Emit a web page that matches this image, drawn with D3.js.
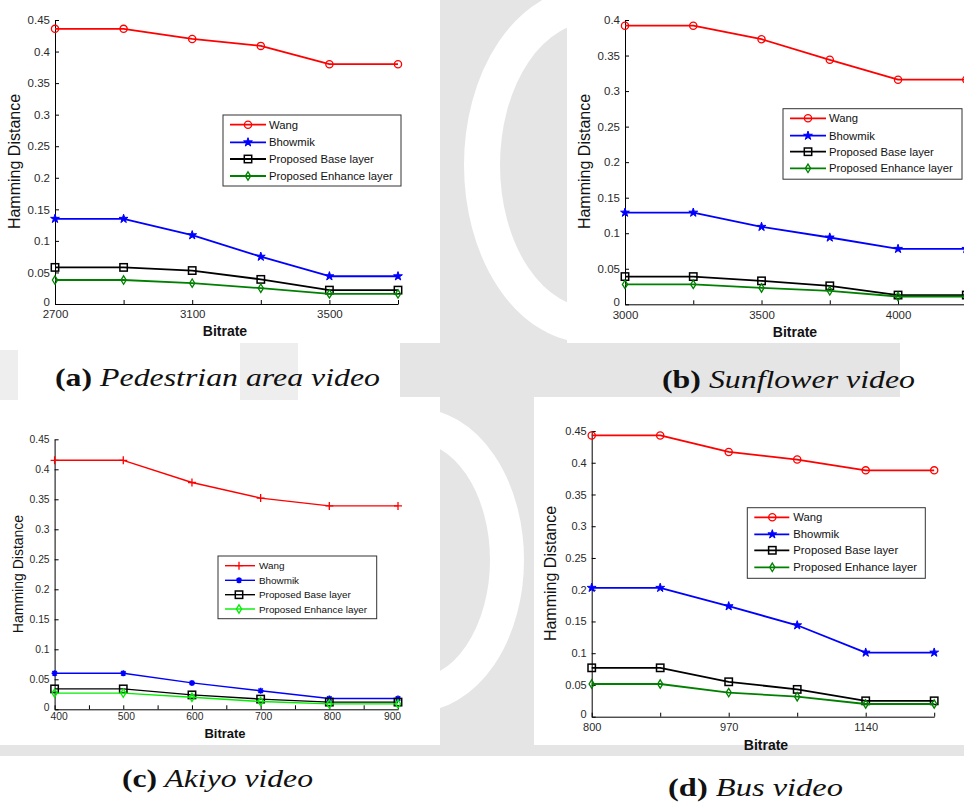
<!DOCTYPE html>
<html>
<head>
<meta charset="utf-8">
<style>
    body { margin: 0; background: #fff; }
    svg { display: block; }
    .tick text { font-family: Arial, "Liberation Sans", sans-serif; fill: #2a2a2a; }
    .domain, .tick line { stroke: #000; }
</style>
</head>
<body>
<svg width="964" height="810"></svg>
<script src="https://d3js.org/d3.v7.min.js"></script>
<script>

// legend names, same in every panel
const seriesNames = ["Wang", "Bhowmik", "Proposed Base layer", "Proposed Enhance layer"];

// (a) Pedestrian area video
const bitrateA = [2700, 2900, 3100, 3300, 3500, 3700];
const wangA = [0.436, 0.436, 0.420, 0.409, 0.380, 0.380];
const bhowmikA = [0.135, 0.135, 0.109, 0.075, 0.044, 0.044];
const baseA = [0.058, 0.058, 0.053, 0.039, 0.022, 0.022];
const enhanceA = [0.038, 0.038, 0.033, 0.025, 0.016, 0.016];
const xLabelsA = [2700, 3100, 3500];

// (b) Sunflower video
const bitrateB = [3000, 3250, 3500, 3750, 4000, 4250];
const wangB = [0.392, 0.392, 0.373, 0.344, 0.316, 0.316];
const bhowmikB = [0.129, 0.129, 0.109, 0.094, 0.078, 0.078];
const baseB = [0.039, 0.039, 0.033, 0.026, 0.013, 0.013];
const enhanceB = [0.028, 0.028, 0.023, 0.019, 0.011, 0.011];
const xLabelsB = [3000, 3500, 4000];

// (c) Akiyo video
const bitrateC = [400, 500, 600, 700, 800, 900];
const wangC = [0.415, 0.415, 0.378, 0.352, 0.339, 0.339];
const bhowmikC = [0.060, 0.060, 0.044, 0.031, 0.018, 0.018];
const baseC = [0.034, 0.034, 0.024, 0.017, 0.012, 0.012];
const enhanceC = [0.027, 0.027, 0.020, 0.013, 0.009, 0.009];
const xTicksC = [400, 450, 500, 550, 600, 650, 700, 750, 800, 850, 900];
const xLabelsC = [400, 500, 600, 700, 800, 900];

// (d) Bus video
const bitrateD = [800, 885, 970, 1055, 1140, 1225];
const wangD = [0.443, 0.443, 0.417, 0.405, 0.388, 0.388];
const bhowmikD = [0.203, 0.203, 0.174, 0.144, 0.101, 0.101];
const baseD = [0.077, 0.077, 0.055, 0.043, 0.025, 0.025];
const enhanceD = [0.0515, 0.0515, 0.038, 0.0315, 0.020, 0.020];
const xLabelsD = [800, 970, 1140];

const yTicks45 = [0, 0.05, 0.1, 0.15, 0.2, 0.25, 0.3, 0.35, 0.4, 0.45];
const yTicks40 = [0, 0.05, 0.1, 0.15, 0.2, 0.25, 0.3, 0.35, 0.4];

const captionTags = ["(a)", "(b)", "(c)", "(d)"];
const captionNames = ["Pedestrian area video", "Sunflower video", "Akiyo video", "Bus video"];

let svg = d3.select("svg");
let grey = "#e5e5e5";

// ---- faint watermark behind the panels ----
svg.append("rect").attr("x", 440).attr("y", 0).attr("width", 127).attr("height", 345).attr("fill", grey);
svg.append("rect").attr("x", 400).attr("y", 343).attr("width", 500).attr("height", 54).attr("fill", grey);
svg.append("rect").attr("x", 240).attr("y", 343).attr("width", 58).attr("height", 75).attr("fill", "#eeeeee");
svg.append("rect").attr("x", 0).attr("y", 350).attr("width", 18).attr("height", 60).attr("fill", "#eeeeee");
svg.append("rect").attr("x", 440).attr("y", 397).attr("width", 94).attr("height", 350).attr("fill", grey);
svg.append("rect").attr("x", 520).attr("y", 397).attr("width", 14).attr("height", 296).attr("fill", grey);
svg.append("rect").attr("x", 0).attr("y", 745).attr("width", 964).attr("height", 11).attr("fill", grey);

svg.append("clipPath").attr("id", "wm1").append("rect").attr("x", 440).attr("y", 0).attr("width", 127).attr("height", 345);
svg.append("ellipse").attr("clip-path", "url(#wm1)")
    .attr("cx", 590).attr("cy", 165).attr("rx", 108).attr("ry", 160)
    .attr("fill", "none").attr("stroke", "#fff").attr("stroke-width", 36);
svg.append("clipPath").attr("id", "wm2").append("rect").attr("x", 440).attr("y", 397).attr("width", 94).attr("height", 348);
svg.append("ellipse").attr("clip-path", "url(#wm2)")
    .attr("cx", 415).attr("cy", 560).attr("rx", 92).attr("ry", 135)
    .attr("fill", "none").attr("stroke", "#fff").attr("stroke-width", 34);

// white figure backgrounds
svg.append("rect").attr("x", 0).attr("y", 0).attr("width", 440).attr("height", 343).attr("fill", "#fff");
svg.append("rect").attr("x", 567).attr("y", 0).attr("width", 397).attr("height", 343).attr("fill", "#fff");
svg.append("rect").attr("x", 0).attr("y", 400).attr("width", 440).attr("height", 345).attr("fill", "#fff");
svg.append("rect").attr("x", 534).attr("y", 404).attr("width", 430).attr("height", 341).attr("fill", "#fff");

// ---- panel layout ----
let panels = [
    {
        xs: bitrateA, series: [wangA, bhowmikA, baseA, enhanceA],
        xTicks: bitrateA, xLabels: xLabelsA, yTicks: yTicks45, yMax: 0.45,
        left: 55, right: 398, top: 20, bottom: 304,
        colors: ["#ff0000", "#0000ff", "#000000", "#008000"],
        markers: ["circle", "star", "square", "diamond"], lw: 1.8, fs: 11.5, lblOff: 6.3,
        ylab: [20, 161.5, 16], xlab: [225, 336, 14],
        legend: { x: 223, y: 115, w: 178, h: 71, rows: [124.7, 142.3, 159, 176], l1: 7, l2: 43, m: 25, t: 46, fs: 11.3 }
    },
    {
        xs: bitrateB, series: [wangB, bhowmikB, baseB, enhanceB],
        xTicks: bitrateB, xLabels: xLabelsB, yTicks: yTicks40, yMax: 0.4,
        left: 625, right: 966.3, top: 20, bottom: 304.3,
        colors: ["#ff0000", "#0000ff", "#000000", "#008000"],
        markers: ["circle", "star", "square", "diamond"], lw: 1.8, fs: 11.5, lblOff: 6.3,
        ylab: [590, 161.5, 16], xlab: [795, 337, 14],
        legend: { x: 783, y: 108.7, w: 179, h: 70.5, rows: [118.3, 135.7, 151.7, 168.3], l1: 7, l2: 43, m: 25, t: 46, fs: 11.3 }
    },
    {
        xs: bitrateC, series: [wangC, bhowmikC, baseC, enhanceC],
        xTicks: xTicksC, xLabels: xLabelsC, yTicks: yTicks45, yMax: 0.45,
        left: 54.6, right: 398, top: 439.3, bottom: 709.3,
        colors: ["#ff0000", "#0000ff", "#000000", "#00ee00"],
        markers: ["plus", "asterisk", "square", "diamond"], lw: 1.4, fs: 10.3, lblOff: 3.5,
        ylab: [23, 574, 14], xlab: [225, 738, 13],
        legend: { x: 218, y: 556, w: 158.7, h: 62.7, rows: [565.7, 580.3, 594.7, 609], l1: 7, l2: 37, m: 21, t: 41, fs: 9.9 }
    },
    {
        xs: bitrateD, series: [wangD, bhowmikD, baseD, enhanceD],
        xTicks: bitrateD, xLabels: xLabelsD, yTicks: yTicks45, yMax: 0.45,
        left: 591.7, right: 934.2, top: 431, bottom: 716.7,
        colors: ["#ff0000", "#0000ff", "#000000", "#008000"],
        markers: ["circle", "star", "square", "diamond"], lw: 1.8, fs: 11, lblOff: 6.3,
        ylab: [556, 573.5, 16], xlab: [766, 750, 14],
        legend: { x: 747.3, y: 507.7, w: 178, h: 70.6, rows: [517.3, 534.3, 550.3, 567.3], l1: 7, l2: 42, m: 25, t: 46, fs: 11.3 }
    }
];

let captionPos = [[55, 386, 325], [662, 388, 253], [122, 787, 191], [668, 796, 175]];

function drawMarker(g, type, cx, cy, color) {
    if (type == "circle") {
        g.append("circle").attr("cx", cx).attr("cy", cy).attr("r", 3.6)
            .attr("fill", "none").attr("stroke", color).attr("stroke-width", 1.3);
    } else if (type == "square") {
        g.append("rect").attr("x", cx - 3.7).attr("y", cy - 3.7).attr("width", 7.4).attr("height", 7.4)
            .attr("fill", "none").attr("stroke", color).attr("stroke-width", 1.5);
    } else if (type == "diamond") {
        g.append("path").attr("d", `M${cx},${cy - 4.2}L${cx + 2.6},${cy}L${cx},${cy + 4.2}L${cx - 2.6},${cy}Z`)
            .attr("fill", "none").attr("stroke", color).attr("stroke-width", 1.3);
    } else if (type == "star") {
        g.append("path").attr("d", d3.symbol(d3.symbolStar, 24)())
            .attr("transform", `translate(${cx},${cy})`)
            .attr("fill", color).attr("stroke", color).attr("stroke-width", 1);
    } else if (type == "plus") {
        g.append("path").attr("d", `M${cx - 4},${cy}H${cx + 4}M${cx},${cy - 4}V${cy + 4}`)
            .attr("stroke", color).attr("stroke-width", 1.3);
    } else if (type == "asterisk") {
        g.append("path").attr("d", `M${cx - 3},${cy}H${cx + 3}M${cx},${cy - 3}V${cy + 3}M${cx - 2.2},${cy - 2.2}L${cx + 2.2},${cy + 2.2}M${cx - 2.2},${cy + 2.2}L${cx + 2.2},${cy - 2.2}`)
            .attr("stroke", color).attr("stroke-width", 1.6);
    }
}

panels.forEach(function (p, k) {
    let x = d3.scaleLinear()
        .domain([p.xs[0], p.xs[p.xs.length - 1]])
        .range([p.left, p.right]);
    let y = d3.scaleLinear()
        .domain([0, p.yMax])
        .range([p.bottom, p.top]);

    let g = svg.append("g");

    let yAxis = d3.axisLeft(y)
        .tickValues(p.yTicks)
        .tickSize(-4)
        .tickSizeOuter(0)
        .tickPadding(5)
        .tickFormat(d => String(d));
    let xAxis = d3.axisBottom(x)
        .tickValues(p.xTicks)
        .tickSize(-4)
        .tickSizeOuter(0)
        .tickPadding(p.lblOff)
        .tickFormat(d => p.xLabels.includes(d) ? String(d) : "");

    let ya = g.append("g").attr("transform", `translate(${p.left},0)`).call(yAxis);
    let xa = g.append("g").attr("transform", `translate(0,${p.bottom})`).call(xAxis);
    ya.selectAll("text").style("font-size", p.fs + "px");
    xa.selectAll("text").style("font-size", p.fs + "px");
    // the "0" label sits a touch high in the original
    ya.selectAll("text").filter(d => d == 0).attr("dy", "0.1em");
    if (k == 2) {
        // matlab nudges the end labels inside
        xa.selectAll("text").attr("dx", d => d == 900 ? -6 : (d == 400 ? 4 : 2.5));
    }

    // series
    let line = d3.line().x(d => x(d[0])).y(d => y(d[1]));
    p.series.forEach(function (vals, i) {
        let pts = vals.map((v, j) => [p.xs[j], v]);
        g.append("path")
            .attr("d", line(pts))
            .attr("fill", "none")
            .attr("stroke", p.colors[i])
            .attr("stroke-width", p.lw)
            .attr("stroke-linejoin", "round");
        pts.forEach(d => drawMarker(g, p.markers[i], x(d[0]), y(d[1]), p.colors[i]));
    });

    // axis titles
    g.append("text").text("Hamming Distance")
        .attr("transform", `translate(${p.ylab[0]},${p.ylab[1]}) rotate(-90)`)
        .attr("text-anchor", "middle")
        .attr("font-family", "Arial, 'Liberation Sans', sans-serif")
        .attr("font-size", p.ylab[2] + "px")
        .attr("fill", "#111");
    g.append("text").text("Bitrate")
        .attr("x", p.xlab[0]).attr("y", p.xlab[1])
        .attr("text-anchor", "middle")
        .attr("font-family", "Arial, 'Liberation Sans', sans-serif")
        .attr("font-weight", "bold")
        .attr("font-size", p.xlab[2] + "px")
        .attr("fill", "#111");

    // legend
    let L = p.legend;
    g.append("rect")
        .attr("x", L.x).attr("y", L.y).attr("width", L.w).attr("height", L.h)
        .attr("fill", "#fff").attr("stroke", "#333").attr("stroke-width", 1);
    seriesNames.forEach(function (name, i) {
        let cy = L.rows[i];
        g.append("line")
            .attr("x1", L.x + L.l1).attr("x2", L.x + L.l2)
            .attr("y1", cy).attr("y2", cy)
            .attr("stroke", p.colors[i]).attr("stroke-width", p.lw);
        drawMarker(g, p.markers[i], L.x + L.m, cy, p.colors[i]);
        g.append("text").text(name)
            .attr("x", L.x + L.t).attr("y", cy + L.fs * 0.36)
            .attr("font-family", "Arial, 'Liberation Sans', sans-serif")
            .attr("font-size", L.fs + "px")
            .attr("fill", "#111");
    });

    // caption
    let c = captionPos[k];
    let cap = svg.append("text")
        .attr("x", c[0]).attr("y", c[1])
        .style("font-family", '"Liberation Serif", "Times New Roman", serif')
        .attr("font-size", "25px")
        .attr("fill", "#111")
        .attr("textLength", c[2])
        .attr("lengthAdjust", "spacingAndGlyphs");
    cap.append("tspan").text(captionTags[k]).attr("font-weight", "bold");
    cap.append("tspan").text(" " + captionNames[k]).attr("font-style", "italic");
});

</script>
</body>
</html>
